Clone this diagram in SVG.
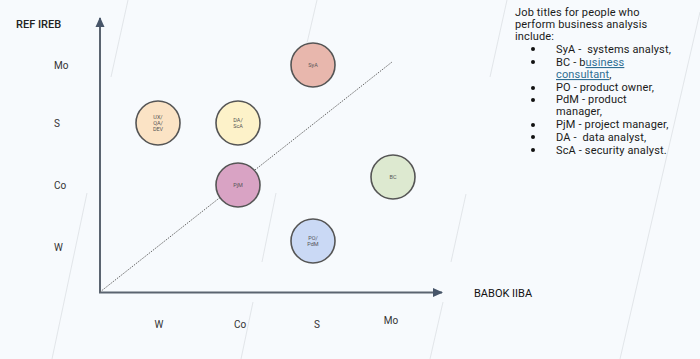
<svg xmlns="http://www.w3.org/2000/svg" width="700" height="359" viewBox="0 0 700 359">
<defs>
<marker id="ah" markerWidth="10" markerHeight="10" refX="9" refY="5" orient="auto" markerUnits="userSpaceOnUse"><path d="M0,0.5 L10,5 L0,9.5 Z" fill="#475569"/></marker>
<style>
.bg{fill:#f7fafd}
.faint{stroke:#d3d7dc;stroke-width:0.6;fill:none}
.axis{stroke:#5b6470;stroke-width:2;fill:none}
.diag{stroke:#666;stroke-width:1;stroke-dasharray:1.5 1.2;fill:none}
.node circle{stroke:#555;stroke-width:1.6}
.nl{font-family:Roboto,"Liberation Sans",sans-serif;font-size:5.5px;fill:#555;text-anchor:middle}
.lab{font-family:Roboto,"Liberation Sans",sans-serif;font-size:10px;fill:#333}
.title{font-family:Roboto,"Liberation Sans",sans-serif;font-size:11px;font-weight:500;fill:#222}
.axt{font-family:Roboto,"Liberation Sans",sans-serif;font-size:11px;font-weight:400;fill:#111}
.txt{font-family:Roboto,"Liberation Sans",sans-serif;font-size:11px;fill:#1a1a1a;font-weight:400;letter-spacing:0.15px;white-space:pre}
.link{fill:#2f6f94;text-decoration:underline}
</style>
</defs>
<rect class="bg" x="0" y="0" width="700" height="359"/>
<g id="faint-lines">
<line class="faint" x1="128" y1="0" x2="111" y2="77"/>
<line class="faint" x1="317" y1="0" x2="307" y2="43"/>
<line class="faint" x1="507" y1="0" x2="490" y2="77"/>
<line class="faint" x1="700" y1="12" x2="620" y2="359"/>
<line class="faint" x1="87" y1="193" x2="52" y2="359"/>
<line class="faint" x1="276" y1="193" x2="262" y2="262"/>
<line class="faint" x1="253" y1="302" x2="241" y2="359"/>
<line class="faint" x1="466" y1="194" x2="451" y2="262"/>
<line class="faint" x1="443" y1="302" x2="430" y2="359"/>
</g>
<g id="connectors">
<line class="axis" x1="100" y1="293" x2="100" y2="18" marker-end="url(#ah)"/>
<line class="axis" x1="99" y1="292.5" x2="442" y2="292.5" marker-end="url(#ah)"/>
<line class="diag" x1="100" y1="292" x2="392" y2="62"/>
</g>
<g id="axis-labels">
<text class="title" x="16" y="28">REF IREB</text>
<text class="lab" x="54" y="69">Mo</text>
<text class="lab" x="54" y="127">S</text>
<text class="lab" x="54" y="189">Co</text>
<text class="lab" x="54" y="251">W</text>
<text class="lab" x="159" y="328" text-anchor="middle">W</text>
<text class="lab" x="240" y="328" text-anchor="middle">Co</text>
<text class="lab" x="317" y="328" text-anchor="middle">S</text>
<text class="lab" x="391" y="324" text-anchor="middle">Mo</text>
<text class="axt" x="474" y="297">BABOK IIBA</text>
</g>
<g id="node-sya" class="node"><circle cx="313" cy="65" r="22" fill="#e8b7ad"/><text class="nl" x="313" y="67">SyA</text></g>
<g id="node-ux" class="node"><circle cx="158" cy="123" r="22" fill="#fbe3c5"/><text class="nl" x="158" y="119">UX/</text><text class="nl" x="158" y="125">QA/</text><text class="nl" x="158" y="131" font-size="4px">DEV</text></g>
<g id="node-da" class="node"><circle cx="238" cy="123" r="22" fill="#fdf2c9"/><text class="nl" x="238" y="122">DA/</text><text class="nl" x="238" y="128">ScA</text></g>
<g id="node-pjm" class="node"><circle cx="238" cy="185" r="22" fill="#d9a3c4"/><text class="nl" x="238" y="187">PjM</text></g>
<g id="node-bc" class="node"><circle cx="393" cy="177" r="22" fill="#dde9d0"/><text class="nl" x="393" y="179">BC</text></g>
<g id="node-po" class="node"><circle cx="313" cy="241" r="22" fill="#cad9f5"/><text class="nl" x="313" y="240">PO/</text><text class="nl" x="313" y="246">PdM</text></g>
<g id="job-text">
<text class="txt" x="515" y="16">Job titles for people who</text>
<text class="txt" x="515" y="28">perform business analysis</text>
<text class="txt" x="515" y="40">include:</text>
<g fill="#111"><circle cx="533" cy="49" r="2"/><circle cx="533" cy="62" r="2"/><circle cx="533" cy="88" r="2"/><circle cx="533" cy="100" r="2"/><circle cx="533" cy="125" r="2"/><circle cx="533" cy="137" r="2"/><circle cx="533" cy="150" r="2"/></g>
<text class="txt" x="556" y="53">SyA -  systems analyst,</text>
<text class="txt" x="556" y="66">BC - b<tspan class="link">usiness</tspan></text>
<text class="txt" x="556" y="78"><tspan class="link">consultant</tspan>,</text>
<text class="txt" x="556" y="91">PO - product owner,</text>
<text class="txt" x="556" y="103">PdM - product</text>
<text class="txt" x="556" y="115">manager,</text>
<text class="txt" x="556" y="128">PjM - project manager,</text>
<text class="txt" x="556" y="141">DA -  data analyst,</text>
<text class="txt" x="556" y="154">ScA - security analyst.</text>
</g>
</svg>
